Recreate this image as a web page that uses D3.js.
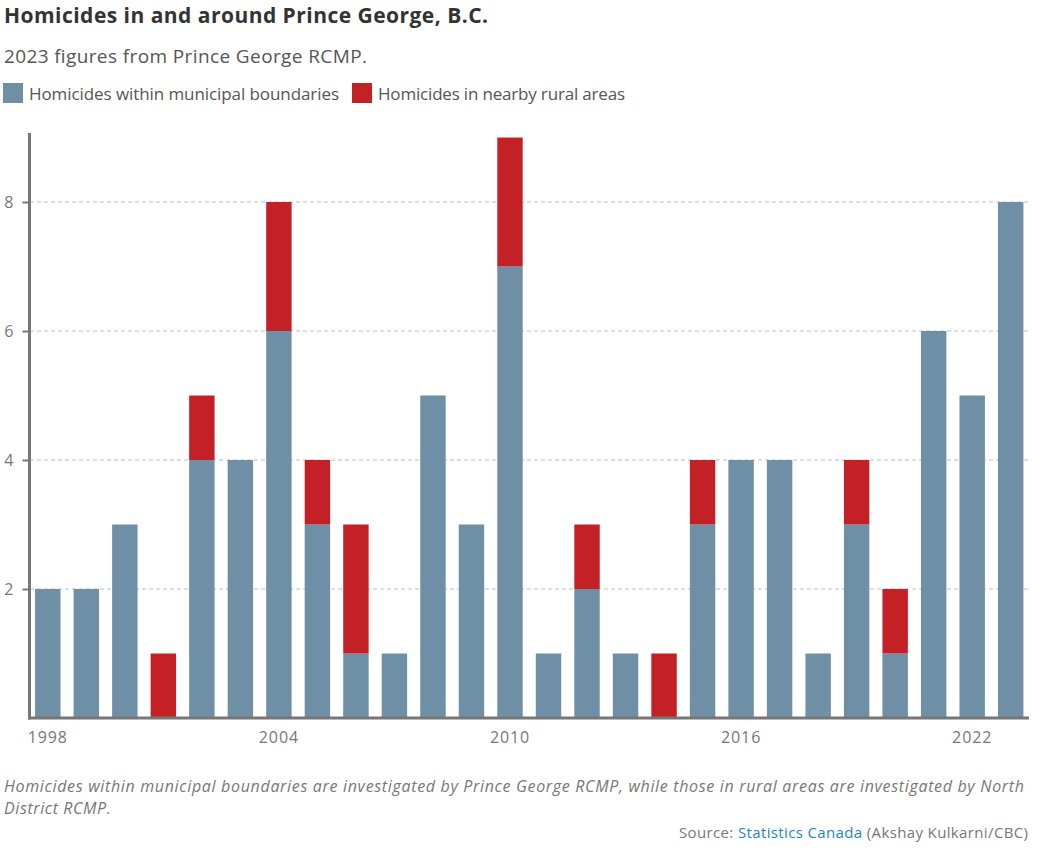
<!DOCTYPE html>
<html><head><meta charset="utf-8">
<script src="https://cdn.jsdelivr.net/npm/d3@7"></script>
<style>
body{margin:0;background:#fff;}
svg{display:block;font-family:"Open Sans",sans-serif;}
</style></head>
<body>
<svg id="c" width="1048" height="856"></svg>
<script>
const years = [1998,1999,2000,2001,2002,2003,2004,2005,2006,2007,2008,2009,2010,2011,2012,2013,2014,2015,2016,2017,2018,2019,2020,2021,2022,2023];
const municipal = [2,2,3,0,4,4,6,3,1,1,5,3,7,1,2,1,0,3,4,4,1,3,1,6,5,8];
const rural =     [0,0,0,1,1,0,2,1,2,0,0,0,2,0,1,0,1,1,0,0,0,1,1,0,0,0];
const xTicks = [1998,2004,2010,2016,2022];
const yTicks = [2,4,6,8];
const seriesNames = ["Homicides within municipal boundaries","Homicides in nearby rural areas"];
const colors = ["#6e8fa5","#c42127"];

const svg = d3.select("#c");
const x = d3.scaleBand().domain(years).range([29.5,1029]).paddingInner(0.34).paddingOuter(0.145);
const y = d3.scaleLinear().domain([0,9.07]).range([718,133]);

// titles
svg.append("text").attr("x",4).attr("y",23).attr("font-size",21).attr("font-weight",700).attr("fill","#333")
  .attr("textLength",484).attr("lengthAdjust","spacing").text("Homicides in and around Prince George, B.C.");
svg.append("text").attr("x",4).attr("y",63).attr("font-size",19).attr("fill","#555")
  .attr("textLength",363).attr("lengthAdjust","spacing").text("2023 figures from Prince George RCMP.");

// legend
const legendItems = [{sx:3, tx:29, tl:310},{sx:352, tx:378, tl:247}];
seriesNames.forEach((n,i)=>{
  const it = legendItems[i];
  svg.append("rect").attr("x",it.sx).attr("y",83).attr("width",20).attr("height",20).attr("fill",colors[i]);
  svg.append("text").attr("x",it.tx).attr("y",100).attr("font-size",17).attr("fill","#555")
    .attr("textLength",it.tl).attr("lengthAdjust","spacing").text(n);
});

// grid
svg.append("g").selectAll("line").data(yTicks).join("line")
  .attr("x1",30).attr("x2",1029).attr("y1",d=>y(d)).attr("y2",d=>y(d))
  .attr("stroke","#b9c0c4").attr("stroke-width",1).attr("stroke-dasharray","4,3");

// bars
const stack = d3.stack().keys(["m","r"])(years.map((yr,i)=>({year:yr,m:municipal[i],r:rural[i]})));
svg.append("g").selectAll("g").data(stack).join("g").attr("fill",(d,i)=>colors[i])
  .selectAll("rect").data(d=>d).join("rect")
  .attr("x",d=>x(d.data.year)).attr("width",x.bandwidth())
  .attr("y",d=>y(d[1])).attr("height",d=>y(d[0])-y(d[1]));

// y axis
const ya = svg.append("g").attr("transform","translate(29.5,0)")
  .call(d3.axisLeft(y).tickValues(yTicks).tickSize(7).tickPadding(9).tickFormat(d3.format("d")));
ya.select(".domain").remove();
ya.selectAll(".tick line").attr("stroke","#777").attr("stroke-width",2);
ya.selectAll(".tick text").attr("fill","#777").attr("font-size",16).attr("font-family","'Open Sans',sans-serif");
svg.append("line").attr("x1",29.5).attr("x2",29.5).attr("y1",133).attr("y2",719.5).attr("stroke","#777").attr("stroke-width",3);

// x axis
const xa = svg.append("g").attr("transform","translate(0,718)")
  .call(d3.axisBottom(x).tickValues(xTicks).tickSize(0).tickPadding(14));
xa.select(".domain").remove();
xa.selectAll(".tick text").attr("fill","#777").attr("font-size",16).attr("letter-spacing","0.9px").attr("font-family","'Open Sans',sans-serif");
svg.append("line").attr("x1",28).attr("x2",1029).attr("y1",718).attr("y2",718).attr("stroke","#777").attr("stroke-width",3);

// note (two lines)
svg.append("text").attr("x",4).attr("y",792).attr("font-size",16).attr("font-style","italic").attr("fill","#777")
  .attr("textLength",1020).attr("lengthAdjust","spacing")
  .text("Homicides within municipal boundaries are investigated by Prince George RCMP, while those in rural areas are investigated by North");
svg.append("text").attr("x",4).attr("y",814).attr("font-size",16).attr("font-style","italic").attr("fill","#777")
  .attr("letter-spacing","0.6px").text("District RCMP.");

// source
const src = svg.append("text").attr("x",679).attr("y",838).attr("font-size",15).attr("fill","#777")
  .attr("textLength",349).attr("lengthAdjust","spacing");
src.append("tspan").text("Source: ");
src.append("tspan").attr("fill","#1b87c9").text("Statistics Canada");
src.append("tspan").text(" (Akshay Kulkarni/CBC)");
</script>
</body></html>
